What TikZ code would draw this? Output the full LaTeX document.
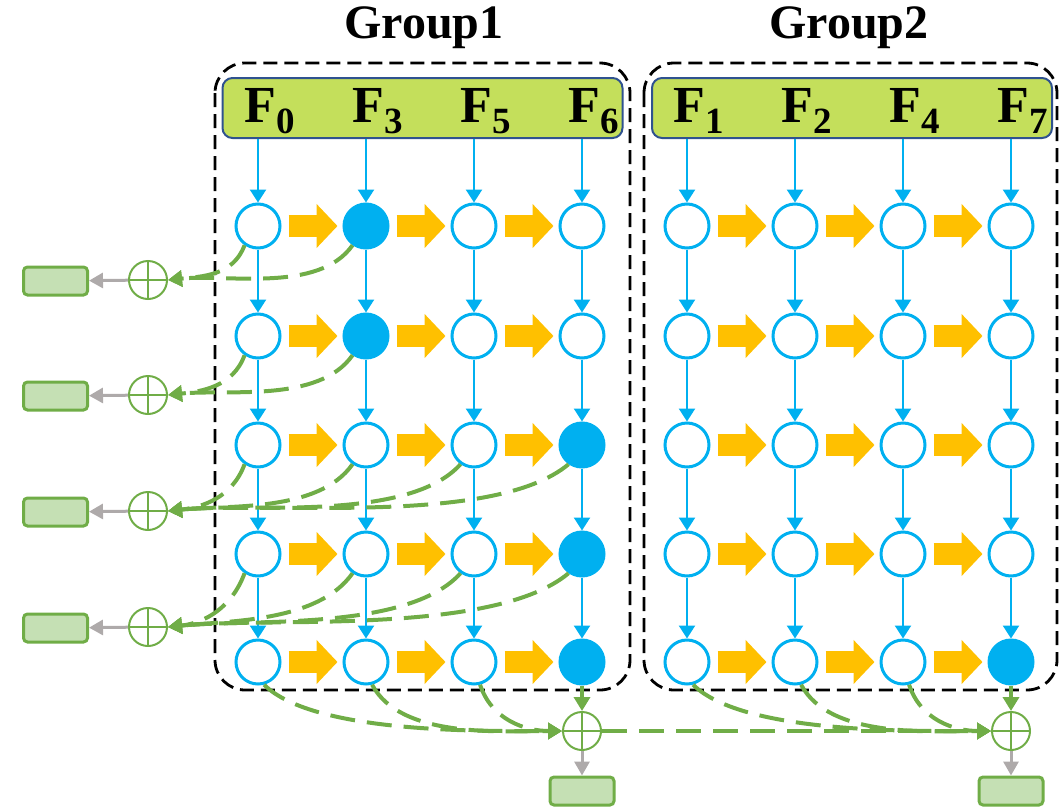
\documentclass[tikz,border=0pt]{standalone}
\usepackage{fontspec}
\setmainfont{Liberation Serif}
\usetikzlibrary{arrows.meta}

\definecolor{cellblue}{HTML}{00B0F0}
\definecolor{flow}{HTML}{FFC000}
\definecolor{sumgreen}{HTML}{70AD47}
\definecolor{outfill}{HTML}{C5E0B4}
\definecolor{hdrfill}{HTML}{C4DF5B}
\definecolor{hdrline}{HTML}{2F528F}
\definecolor{outgray}{HTML}{AEAAAA}

% lowered, smaller index after an F
\newcommand{\fsub}[1]{\raisebox{-5.5pt}{\fontsize{18.5}{18.5}\selectfont #1}}

\tikzset{
  cell/.style={circle, draw=cellblue, line width=1.5pt, fill=white,
    minimum size=22pt, inner sep=0pt},
  % filled cells
  hit 1-1-2/.style={fill=cellblue},
  hit 1-2-2/.style={fill=cellblue},
  hit 1-3-4/.style={fill=cellblue},
  hit 1-4-4/.style={fill=cellblue},
  hit 1-5-4/.style={fill=cellblue},
  hit 2-5-4/.style={fill=cellblue},
  feed/.style={cellblue, line width=1.2pt, -{Triangle[length=6.5pt, width=8pt]}},
  pass/.style={flow, line width=11pt, -{Triangle[length=10.5pt, width=21.5pt]},
    shorten <=3.5pt, shorten >=2.5pt},
  tap/.style={sumgreen, line width=2pt, dash pattern=on 12.5pt off 6pt,
    -{Triangle[length=7pt, width=8pt]}},
  tapsolid/.style={sumgreen, line width=2pt, -{Triangle[length=7pt, width=8pt]}},
  sum/.style={circle, draw=sumgreen, line width=1pt, minimum size=19pt, inner sep=0pt,
    path picture={\draw[sumgreen, line width=1pt]
      (path picture bounding box.north) -- (path picture bounding box.south)
      (path picture bounding box.west) -- (path picture bounding box.east);}},
  outbox/.style={draw=sumgreen, fill=outfill, line width=1.5pt, rounded corners=2pt,
    minimum width=32pt, minimum height=14pt, inner sep=0pt},
  emit/.style={outgray, line width=1.5pt, -{Triangle[length=7pt, width=7.5pt]}},
  groupbox/.style={black, line width=1.4pt, dash pattern=on 7pt off 3.5pt,
    rounded corners=15pt},
  hdr/.style={draw=hdrline, fill=hdrfill, line width=1pt, rounded corners=5pt,
    minimum width=200pt, minimum height=30pt, inner sep=0pt},
  flabel/.style={font=\bfseries\fontsize{26}{26}\selectfont, inner sep=0pt, anchor=base west},
  gtitle/.style={font=\bfseries\fontsize{24}{24}\selectfont, inner sep=0pt}
}

\begin{document}
\begin{tikzpicture}[x=0.5pt, y=-0.5pt]
  \useasboundingbox (0,0) rectangle (1061,809);

  % the two groups
  \draw[groupbox] (215,63) rectangle (630,690);
  \draw[groupbox] (644,63) rectangle (1057,690);
  \node[gtitle] (title1) at (424,28) {Group1};
  \node[gtitle] (title2) at (849,28) {Group2};

  \node[hdr] (hdr1) at (422.5,108) {};
  \node[hdr] (hdr2) at (852,108) {};

  \node[flabel] (f0) at (244,122) {F\fsub{0}};
  \node[flabel] (f3) at (352,122) {F\fsub{3}};
  \node[flabel] (f5) at (460,122) {F\fsub{5}};
  \node[flabel] (f6) at (568,122) {F\fsub{6}};
  \node[flabel] (f1) at (673,122) {F\fsub{1}};
  \node[flabel] (f2) at (781,122) {F\fsub{2}};
  \node[flabel] (f4) at (889,122) {F\fsub{4}};
  \node[flabel] (f7) at (997,122) {F\fsub{7}};

  % grid of cells
  \foreach \g/\xo in {1/258, 2/687}
    \foreach \r/\y in {1/226, 2/336, 3/445, 4/554, 5/662}
      \foreach \c in {1,2,3,4}
        \node[cell, hit \g-\r-\c/.try] (g\g-\r-\c) at ({\xo+(\c-1)*108},\y) {};

  % inputs and vertical links
  \foreach \g in {1,2} {
    \foreach \c in {1,2,3,4} {
      \draw[feed] (g\g-1-\c |- hdr\g.south) -- (g\g-1-\c);
      \foreach \r [count=\n from 2] in {1,2,3,4}
        \draw[feed] (g\g-\r-\c) -- (g\g-\n-\c);
    }
    \foreach \r in {1,2,3,4,5}
      \foreach \c [count=\n from 2] in {1,2,3}
        \draw[pass] (g\g-\r-\c) -- (g\g-\r-\n);
  }

  % side sums with outputs
  \node[sum] (s1) at (148,280) {};
  \node[sum] (s2) at (148,395) {};
  \node[sum] (s3) at (148,511) {};
  \node[sum] (s4) at (148,627) {};
  \node[outbox] (o1) at (55.5,281) {};
  \node[outbox] (o2) at (55.5,396) {};
  \node[outbox] (o3) at (55.5,512) {};
  \node[outbox] (o4) at (55.5,628) {};
  \foreach \r in {1,2,3,4}
    \draw[emit] (s\r) -- (o\r);

  % taps: column / leaving angle / looseness
  \foreach \r in {1,2}
    \foreach \c/\a/\l in {1/250/1, 2/235/0.8}
      \draw[tap] (g1-\r-\c.235) to[out=\a, in=6, looseness=\l] (s\r.east);
  \foreach \r in {3,4}
    \foreach \c/\a/\l in {1/250/1, 2/235/0.8, 3/228/0.68, 4/220/0.62}
      \draw[tap] (g1-\r-\c.235) to[out=\a, in=6, looseness=\l] (s\r.east);

  % bottom sums
  \node[sum] (t1) at (582,731) {};
  \node[sum] (t2) at (1011,731) {};
  \node[outbox] (p1) at (582,791) {};
  \node[outbox] (p2) at (1011,791) {};
  \foreach \g in {1,2} {
    \foreach \c/\a/\l in {1/-45/0.6, 2/-62/0.8, 3/-72/1}
      \draw[tap] (g\g-5-\c.285) to[out=\a, in=180, looseness=\l] (t\g.west);
    \draw[tapsolid] (g\g-5-4) -- (t\g);
    \draw[emit] (t\g) -- (p\g);
  }
  \draw[tap] (t1.east) -- (t2.west);
\end{tikzpicture}
\end{document}
